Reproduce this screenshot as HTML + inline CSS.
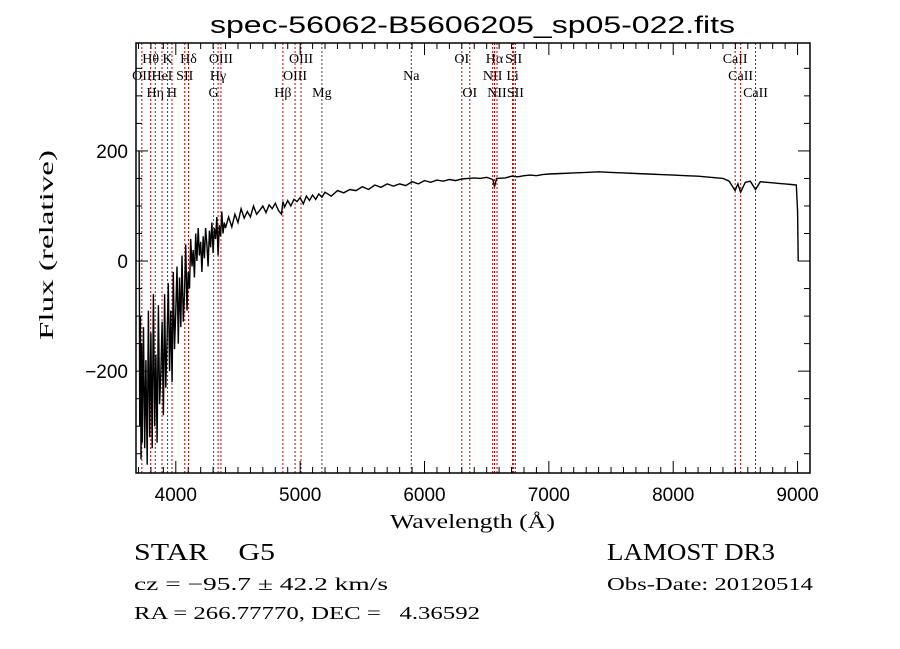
<!DOCTYPE html>
<html><head><meta charset="utf-8"><style>
html,body{margin:0;padding:0;background:#fff;}
svg{display:block;}
text{fill:#000;}
</style></head><body>
<svg id="chart" width="900" height="649" xmlns="http://www.w3.org/2000/svg">
<rect width="900" height="649" fill="#fff"/>
<text x="210" y="33" font-family="Liberation Sans, sans-serif" font-size="24" textLength="525" lengthAdjust="spacingAndGlyphs">spec-56062-B5606205_sp05-022.fits</text>
<text x="390" y="528" font-family="Liberation Serif, serif" font-size="20" textLength="165" lengthAdjust="spacingAndGlyphs">Wavelength (Å)</text>
<text transform="translate(53,340) rotate(-90)" font-family="Liberation Serif, serif" font-size="20" textLength="190" lengthAdjust="spacingAndGlyphs">Flux (relative)</text>
<text x="134" y="560" font-family="Liberation Serif, serif" font-size="24" textLength="141" lengthAdjust="spacingAndGlyphs" xml:space="preserve">STAR    G5</text>
<text x="607" y="560" font-family="Liberation Serif, serif" font-size="24" textLength="168" lengthAdjust="spacingAndGlyphs">LAMOST DR3</text>
<text x="134" y="590" font-family="Liberation Serif, serif" font-size="18" textLength="254" lengthAdjust="spacingAndGlyphs">cz = −95.7 ± 42.2 km/s</text>
<text x="607" y="590" font-family="Liberation Serif, serif" font-size="18" textLength="206" lengthAdjust="spacingAndGlyphs">Obs-Date: 20120514</text>
<text x="134" y="619" font-family="Liberation Serif, serif" font-size="18" textLength="346" lengthAdjust="spacingAndGlyphs" xml:space="preserve">RA = 266.77770, DEC =   4.36592</text>
<g id="plot"></g>
</svg>
<script>
const xTicks=[4000,5000,6000,7000,8000,9000];
const yTicks=[-200,0,200];
const lineWaves=[3727,3798,3835,3889,3934,3969,4072,4102,4304,4340,4363,4861,4959,5007,5175,5894,6300,6364,6548,6563,6583,6708,6717,6731,8498,8542,8662];
const lineLabels=["OII","Hθ","Hη","HeI","K","H","SII","Hδ","G","Hγ","OIII","Hβ","OIII","OIII","Mg","Na","OI","OI","NII","Hα","NII","Li","SII","SII","CaII","CaII","CaII"];
const lineRows=[1,0,2,1,0,2,1,0,2,1,0,2,1,0,2,1,0,2,1,0,2,1,0,2,0,1,2];
const waves=[3705,3710,3715,3720,3725,3730,3740,3750,3760,3770,3780,3790,3800,3810,3820,3830,3840,3850,3860,3870,3880,3890,3900,3910,3920,3930,3940,3950,3960,3970,3980,3990,4000,4010,4020,4030,4040,4050,4060,4070,4080,4090,4100,4110,4120,4130,4140,4150,4160,4170,4180,4190,4200,4210,4220,4230,4240,4250,4260,4270,4280,4290,4300,4310,4320,4330,4340,4350,4360,4370,4380,4390,4400,4425,4450,4475,4500,4525,4550,4575,4600,4625,4650,4675,4700,4725,4750,4775,4800,4825,4850,4861,4875,4900,4925,4950,4975,5000,5025,5050,5075,5100,5125,5150,5175,5200,5250,5300,5350,5400,5450,5500,5550,5600,5650,5700,5750,5800,5850,5900,5950,6000,6050,6100,6150,6200,6250,6300,6350,6400,6450,6500,6550,6563,6580,6650,6700,6750,6800,6850,6900,6950,7000,7100,7200,7300,7400,7500,7600,7700,7800,7900,8000,8100,8200,8300,8400,8450,8498,8520,8542,8580,8620,8662,8700,8750,8800,8850,8900,8950,8990,9000,9005];
const flux=[200,-300,-100,-360,-150,-330,-120,-340,-180,-370,-90,-320,-130,-340,-60,-300,-170,-330,-80,-260,-200,-110,-280,-60,-230,-140,-40,-200,-90,-220,-20,-160,-90,-10,-150,-30,-120,10,-110,-60,30,-90,-20,-50,40,-10,20,-30,50,0,60,10,35,-20,45,5,60,30,-10,55,25,70,15,60,40,80,10,65,45,90,50,70,60,80,62,85,70,95,78,90,80,100,85,92,100,88,102,95,105,92,85,108,98,110,100,112,108,115,104,118,110,120,112,122,116,125,118,128,124,130,128,135,130,138,134,140,136,140,137,144,140,146,143,147,145,148,146,149,150,151,150,152,148,135,150,151,154,153,155,156,155,157,158,159,160,161,162,161,160,159,158,157,156,155,154,152,150,145,128,140,125,143,145,130,144,143,142,141,140,139,138,90,0];
const X0=3680,X1=9100,Y0=-385,Y1=396,L=136,R=810,T=43,B=473;
const sx=w=>L+(w-X0)/(X1-X0)*(R-L);
const sy=f=>B-(f-Y0)/(Y1-Y0)*(B-T);
const NS="http://www.w3.org/2000/svg";
const g=document.getElementById('plot');
function mk(tag,attrs){const e=document.createElementNS(NS,tag);for(const k in attrs)e.setAttribute(k,attrs[k]);g.appendChild(e);return e;}
lineWaves.forEach((w,i)=>{
 const x=sx(w);
 const gray=(lineLabels[i]==="Na"||lineLabels[i]==="Mg"||lineLabels[i]==="G");
 const ln=mk('line',{x1:x,x2:x,y1:T,y2:B,stroke:gray?'#444':'#c00000','stroke-width':1,'stroke-dasharray':'2,2'});
 
 
 const t=mk('text',{x:x,y:63+lineRows[i]*17,'font-family':'Liberation Serif, serif','font-size':14,'text-anchor':'middle'});
 t.textContent=lineLabels[i];
 
 
});
let d='';
waves.forEach((w,i)=>{d+=(i?'L':'M')+sx(w).toFixed(1)+','+sy(flux[i]).toFixed(1);});
const sp=mk('path',{d:d,fill:'none',stroke:'#000','stroke-width':1.4});


const fr=mk('rect',{x:L,y:T,width:R-L,height:B-T,fill:'none',stroke:'#000','stroke-width':1.5});


for(let w=3700;w<=9100;w+=100){
 const x=sx(w),maj=w%1000===0,len=maj?12:6;
 mk('line',{x1:x,x2:x,y1:B,y2:B-len,stroke:'#000'});
 mk('line',{x1:x,x2:x,y1:T,y2:T+len,stroke:'#000'});
}
xTicks.forEach(w=>{
 const t=mk('text',{x:sx(w),y:501,'font-family':'Liberation Sans, sans-serif','font-size':19,'text-anchor':'middle'});
 t.textContent=w;
 
 
});
for(let f=-350;f<=350;f+=50){
 const y=sy(f),maj=f%200===0,len=maj?12:6;
 mk('line',{x1:L,x2:L+len,y1:y,y2:y,stroke:'#000'});
 mk('line',{x1:R,x2:R-len,y1:y,y2:y,stroke:'#000'});
}
yTicks.forEach(f=>{
 const t=mk('text',{x:128,y:sy(f)+7,'font-family':'Liberation Sans, sans-serif','font-size':19,'text-anchor':'end'});
 t.textContent=f<0?'−'+(-f):f;
 
 
});
</script>
</body></html>
